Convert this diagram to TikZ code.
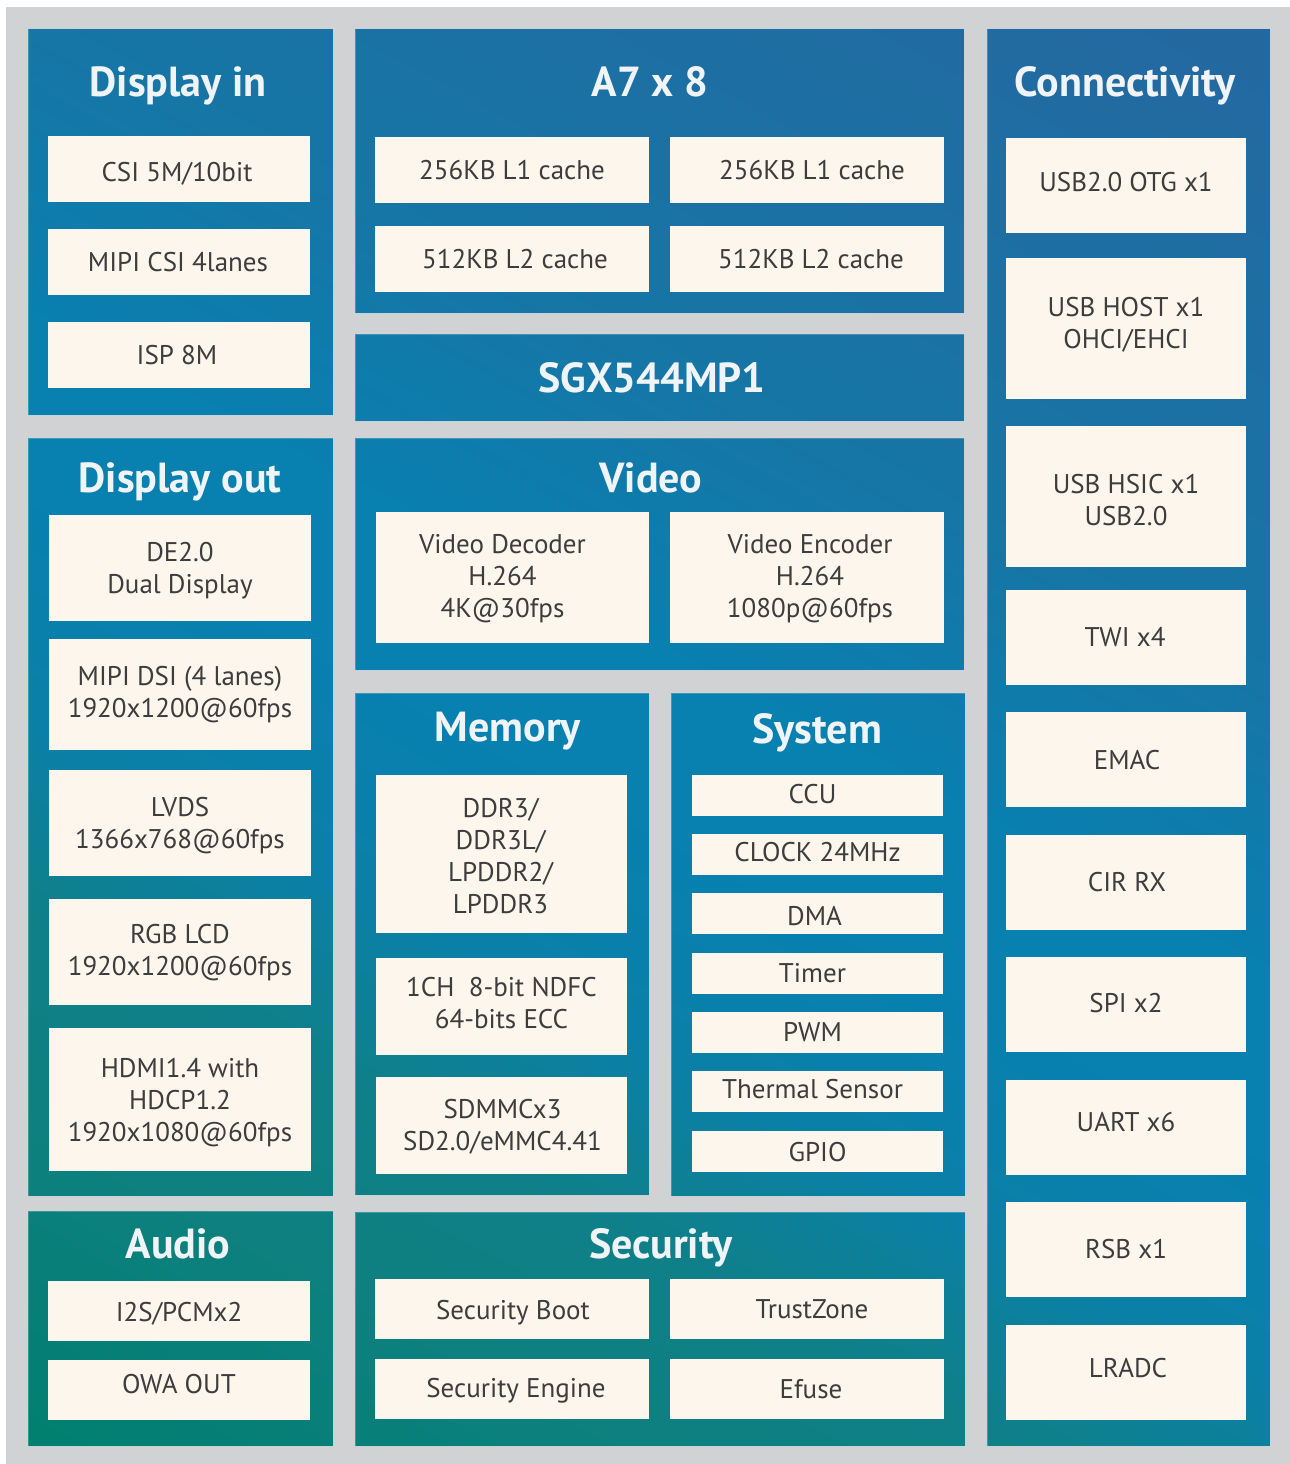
\documentclass[tikz,border=0pt]{standalone}
\usepackage{fontspec}
\setmainfont{PT Sans}
\definecolor{bg}{HTML}{D1D2D4}
\definecolor{boxfill}{HTML}{FCF6EC}
\definecolor{txt}{HTML}{3D3D3D}
\definecolor{ttl}{HTML}{F0F4F7}
\definecolor{sA}{HTML}{00806F}
\definecolor{sB}{HTML}{067F76}
\definecolor{sC}{HTML}{0E8080}
\definecolor{sD}{HTML}{0F8088}
\definecolor{sE}{HTML}{0A80A8}
\definecolor{sF}{HTML}{0880B0}
\definecolor{sG}{HTML}{0880B0}
\definecolor{sH}{HTML}{1676A6}
\definecolor{sI}{HTML}{2468A0}
\pgfdeclareverticalshading{panshade}{100bp}{color(0bp)=(sA); color(25bp)=(sA); color(28.1bp)=(sB);
  color(33.3bp)=(sC); color(37.7bp)=(sD); color(42.6bp)=(sE); color(48bp)=(sF); color(52.1bp)=(sG);
  color(59.1bp)=(sH); color(75bp)=(sI); color(100bp)=(sI)}
\newcommand\mytop{\rule{0pt}{26pt}}
\newcommand\mybot{\rule[-7pt]{0pt}{7pt}}
\tikzset{
  boxbg/.style={fill=boxfill, inner sep=0pt, outer sep=0pt},
  boxtxt/.style={inner sep=0pt, align=center, text=txt, font=\fontsize{27}{32}\selectfont},
  ttlnode/.style={anchor=base, text=ttl, font=\bfseries\fontsize{42}{48}\selectfont, inner sep=0pt},
  edge/.style={draw=white, draw opacity=0.2, line width=1pt}
}
% name, x1, y1, x2, y2, dx, dy, text
\newcommand\bx[8]{%
  \node[boxbg, minimum width={(#4-#2)*1pt}, minimum height={(#5-#3)*1pt}] (#1) at ({(#2+#4)/2},{(#3+#5)/2}) {};
  \node[boxtxt] (#1t) at ([xshift={(#6)*1pt}, yshift={-(#7)*1pt}]#1.center) {\mytop #8\mybot};}
\begin{document}
\begin{tikzpicture}[x=1pt,y=-1pt]
\useasboundingbox (0,0) rectangle (1290,1464);
\fill[white] (0,0) rectangle (1290,1464);
\fill[bg] (6,7) rectangle (1290,1464);
\begin{scope}
\clip (28,29) rectangle (333,415)
 (355,29) rectangle (964,313)
 (355,334) rectangle (964,421)
 (987,29) rectangle (1270,1446)
 (28,438) rectangle (333,1196)
 (355,438) rectangle (964,670)
 (355,693) rectangle (649,1195)
 (671,693) rectangle (965,1196)
 (28,1211) rectangle (333,1446)
 (355,1212) rectangle (965,1446);
\begin{scope}[transform canvas={shift={(649,737.5)}, rotate=-28}]
\shade[shading=panshade] (-1100,-917) rectangle (1100,917);
\end{scope}
\end{scope}
\path[edge] (28,29) rectangle (333,415)
 (355,29) rectangle (964,313)
 (355,334) rectangle (964,421)
 (987,29) rectangle (1270,1446)
 (28,438) rectangle (333,1196)
 (355,438) rectangle (964,670)
 (355,693) rectangle (649,1195)
 (671,693) rectangle (965,1196)
 (28,1211) rectangle (333,1446)
 (355,1212) rectangle (965,1446);
% titles
\node[ttlnode] (tDin) at (178,96) {Display in};
\node[ttlnode] (tA7) at (650,96) {A7 x 8};
\node[ttlnode] (tConn) at (1125,96) {Connectivity};
\node[ttlnode] (tSGX) at (652,392) {SGX544MP1};
\node[ttlnode] (tDout) at (180,492) {Display out};
\node[ttlnode] (tVid) at (651,492) {Video};
\node[ttlnode] (tMem) at (508,741) {Memory};
\node[ttlnode] (tSys) at (817,743) {System};
\node[ttlnode] (tAud) at (178,1258) {Audio};
\node[ttlnode] (tSec) at (661,1258) {Security};
% Display in
\bx{csi}{48}{136}{310}{202}{-2}{3}{CSI 5M/10bit}
\bx{mipicsi}{48}{229}{310}{295}{-1}{0}{MIPI CSI 4lanes}
\bx{isp}{48}{322}{310}{388}{-2}{0}{ISP 8M}
% A7
\bx{lA}{375}{137}{649}{203}{0}{0}{256KB L1 cache}
\bx{lB}{670}{137}{944}{203}{5}{0}{256KB L1 cache}
\bx{lC}{375}{226}{649}{292}{3}{0}{512KB L2 cache}
\bx{lD}{670}{226}{944}{292}{4}{0}{512KB L2 cache}
% Connectivity
\bx{otg}{1006}{138}{1246}{233}{0}{-4}{USB2.0 OTG x1}
\bx{host}{1006}{258}{1246}{399}{0}{-6}{USB HOST x1\\OHCI/EHCI}
\bx{hsic}{1006}{426}{1246}{567}{0}{3}{USB HSIC x1\\USB2.0}
\bx{twi}{1006}{590}{1246}{685}{-1}{-1}{TWI x4}
\bx{emac}{1006}{712}{1246}{807}{1}{0}{EMAC}
\bx{cir}{1006}{835}{1246}{930}{1}{-1}{CIR RX}
\bx{spi}{1006}{957}{1246}{1052}{0}{-2}{SPI x2}
\bx{uart}{1006}{1080}{1246}{1175}{0}{-6}{UART x6}
\bx{rsb}{1006}{1202}{1246}{1297}{0}{-1}{RSB x1}
\bx{lradc}{1006}{1325}{1246}{1420}{2}{-5}{LRADC}
% Display out
\bx{de}{49}{515}{311}{621}{0}{0}{DE2.0\\Dual Display}
\bx{dsi}{49}{639}{311}{750}{0}{-3}{MIPI DSI (4 lanes)\\1920x1200@60fps}
\bx{lvds}{49}{770}{311}{876}{0}{0}{LVDS\\1366x768@60fps}
\bx{rgb}{49}{899}{311}{1005}{0}{-2}{RGB LCD\\1920x1200@60fps}
\bx{hdmi}{49}{1028}{311}{1171}{0}{0}{HDMI1.4 with\\HDCP1.2\\1920x1080@60fps}
% Video
\bx{vdec}{376}{512}{649}{643}{-10}{-2}{Video Decoder\\H.264\\4K@30fps}
\bx{venc}{670}{512}{944}{643}{3}{-2}{Video Encoder\\H.264\\1080p@60fps}
% Memory
\bx{ddr}{376}{775}{627}{933}{-1}{2}{DDR3/\\DDR3L/\\LPDDR2/\\LPDDR3}
\bx{nand}{376}{958}{627}{1055}{0}{-4}{1CH~~8-bit NDFC\\64-bits ECC}
\bx{sdmmc}{376}{1077}{627}{1174}{1}{-1}{SDMMCx3\\SD2.0/eMMC4.41}
% System
\bx{ccu}{692}{775}{943}{816}{-5}{-2}{CCU}
\bx{clk}{692}{834}{943}{875}{0}{-3}{CLOCK 24MHz}
\bx{dma}{692}{893}{943}{934}{-3}{2}{DMA}
\bx{timer}{692}{953}{943}{994}{-5}{-1}{Timer}
\bx{pwm}{692}{1012}{943}{1053}{-5}{-1}{PWM}
\bx{therm}{692}{1071}{943}{1112}{-5}{-3}{Thermal Sensor}
\bx{gpio}{692}{1131}{943}{1172}{0}{0}{GPIO}
% Audio
\bx{i2s}{48}{1281}{310}{1341}{0}{1}{I2S/PCMx2}
\bx{owa}{48}{1360}{310}{1420}{0}{-6}{OWA OUT}
% Security
\bx{sboot}{375}{1279}{649}{1339}{1}{1}{Security Boot}
\bx{tz}{670}{1279}{944}{1339}{5}{0}{TrustZone}
\bx{seng}{375}{1359}{649}{1419}{4}{-1}{Security Engine}
\bx{efuse}{670}{1359}{944}{1419}{4}{0}{Efuse}
\end{tikzpicture}
\end{document}
